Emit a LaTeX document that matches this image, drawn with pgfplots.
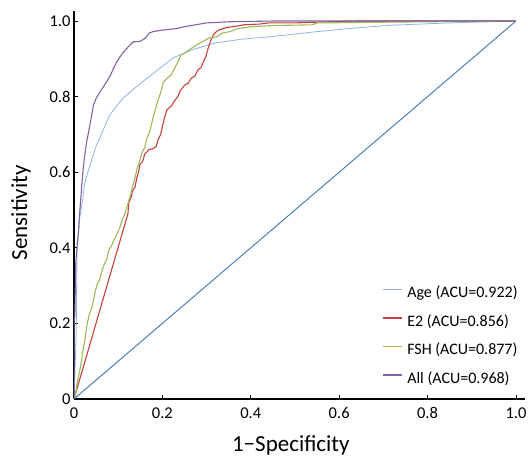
\documentclass[border=0pt]{standalone}
\usepackage{fontspec}
\setmainfont{Carlito}
\usepackage{pgfplots}
\pgfplotsset{compat=1.18}
\definecolor{agec}{HTML}{8DB3E2}
\definecolor{diagc}{HTML}{4A7EBB}
\definecolor{e2c}{HTML}{C8403D}
\definecolor{fshc}{HTML}{9BBB59}
\definecolor{allc}{HTML}{8064A2}
\begin{document}
\begin{tikzpicture}
\begin{axis}[
  at={(0,0)}, anchor=south west,
  width=450.8bp, height=387.8bp, scale only axis,
  xmin=0, xmax=1.02, ymin=0, ymax=1.026,
  axis lines*=left, axis line style={-, line width=1.2bp, black},
  xtick={0,0.2,0.4,0.6,0.8,1.0}, xticklabels={0,0.2,0.4,0.6,0.8,1.0},
  ytick={0,0.2,0.4,0.6,0.8,1.0}, yticklabels={0,0.2,0.4,0.6,0.8,1.0},
  tick align=inside, major tick length=4.5bp,
  tick style={line width=0.9bp, black},
  tick label style={font=\fontsize{16.5bp}{19bp}\selectfont},
  /pgf/number format/assume math mode=true,
  xticklabel style={yshift=-5bp},
  xlabel={1−Specificity}, ylabel={Sensitivity},
  label style={font=\fontsize{23bp}{27bp}\selectfont},
  xlabel style={at={(axis description cs:0.481,0)}, anchor=base, yshift=-52bp},
  ylabel style={at={(axis description cs:0,0.48)}, anchor=center, yshift=53bp},
  legend style={draw=none, fill=none, at={(0.9845,0.033)}, anchor=south east,
    inner sep=0pt, row sep=14.5bp, column sep=5bp,
    font=\fontsize{16bp}{19bp}\selectfont,
    nodes={inner sep=0pt, text height=11bp, text depth=3bp}},
  legend cell align=left,
  legend image code/.code={\draw[#1] (0bp,4bp) -- (19bp,4bp);},
]
\addplot[diagc, line width=1.0bp, forget plot] coordinates {(0,0) (1,1)};
\addplot[agec, line width=0.8bp] coordinates {
(0,0) (0.005,0.17) (0.006,0.3) (0.007,0.39) (0.013,0.48) (0.02,0.53) (0.024,0.57)
(0.03,0.595) (0.038,0.625) (0.048,0.662) (0.06,0.695) (0.081,0.752) (0.11,0.795)
(0.145,0.83) (0.18,0.862) (0.225,0.903) (0.27,0.925) (0.32,0.942) (0.38,0.952)
(0.44,0.958) (0.55,0.972) (0.65,0.983) (0.72,0.989) (0.85,0.995) (1,1)};
\addlegendentry{Age (ACU=0.922)}
\addplot[e2c, line width=1.1bp] coordinates {
(0,0) (0.122,0.49) (0.124,0.52) (0.13,0.535) (0.132,0.55) (0.138,0.56) (0.142,0.585)
(0.146,0.6) (0.149,0.62) (0.156,0.63) (0.16,0.648) (0.166,0.655) (0.17,0.66)
(0.178,0.662) (0.186,0.668) (0.19,0.685) (0.196,0.7) (0.2,0.72) (0.205,0.745)
(0.21,0.765) (0.22,0.775) (0.228,0.79) (0.235,0.8) (0.24,0.815) (0.25,0.83)
(0.258,0.835) (0.265,0.848) (0.274,0.855) (0.28,0.87) (0.288,0.878) (0.292,0.89)
(0.298,0.905) (0.304,0.93) (0.31,0.95) (0.316,0.965) (0.325,0.975) (0.345,0.983)
(0.36,0.985) (0.385,0.99) (0.42,0.992) (0.44,0.995) (0.5,0.995) (0.55,0.997)
(0.64,1) (1,1)};
\addlegendentry{E2 (ACU=0.856)}
\addplot[fshc, line width=1.1bp] coordinates {
(0,0) (0.004,0.016) (0.006,0.035) (0.01,0.06) (0.014,0.08) (0.018,0.11) (0.021,0.135)
(0.024,0.15) (0.026,0.17) (0.03,0.2) (0.035,0.225) (0.04,0.24) (0.044,0.26)
(0.048,0.285) (0.053,0.305) (0.058,0.315) (0.062,0.335) (0.068,0.355) (0.074,0.37)
(0.079,0.395) (0.085,0.405) (0.09,0.42) (0.097,0.435) (0.104,0.455) (0.108,0.47)
(0.115,0.49) (0.12,0.51) (0.127,0.535) (0.132,0.56) (0.138,0.585) (0.143,0.61)
(0.149,0.632) (0.155,0.655) (0.16,0.665) (0.165,0.69) (0.172,0.71) (0.178,0.74)
(0.185,0.77) (0.19,0.79) (0.196,0.81) (0.202,0.838) (0.212,0.85) (0.22,0.858)
(0.228,0.875) (0.236,0.895) (0.242,0.91) (0.25,0.915) (0.262,0.925) (0.275,0.935)
(0.29,0.945) (0.305,0.955) (0.323,0.958) (0.335,0.968) (0.353,0.972) (0.37,0.98)
(0.4,0.985) (0.45,0.988) (0.54,0.99) (0.55,0.995) (0.8,0.998) (1,1)};
\addlegendentry{FSH (ACU=0.877)}
\addplot[allc, line width=1.1bp] coordinates {
(0,0) (0,0.2) (0.002,0.22) (0.003,0.3) (0.004,0.36) (0.006,0.39) (0.008,0.42)
(0.01,0.44) (0.012,0.48) (0.014,0.51) (0.016,0.54) (0.018,0.57) (0.02,0.6)
(0.023,0.632) (0.026,0.66) (0.029,0.683) (0.032,0.7) (0.036,0.725) (0.04,0.75)
(0.044,0.778) (0.05,0.795) (0.059,0.813) (0.066,0.825) (0.074,0.84) (0.082,0.855)
(0.089,0.874) (0.096,0.89) (0.104,0.905) (0.112,0.918) (0.12,0.928) (0.127,0.937)
(0.134,0.945) (0.149,0.946) (0.158,0.952) (0.165,0.96) (0.17,0.968) (0.179,0.972)
(0.2,0.976) (0.232,0.98) (0.25,0.985) (0.285,0.992) (0.3,0.995) (0.35,0.998)
(0.45,1) (1,1)};
\addlegendentry{All (ACU=0.968)}
\end{axis}
\pgfresetboundingbox
\path[use as bounding box] (-74bp,-57bp) rectangle (454bp,399bp);
\end{tikzpicture}
\end{document}
